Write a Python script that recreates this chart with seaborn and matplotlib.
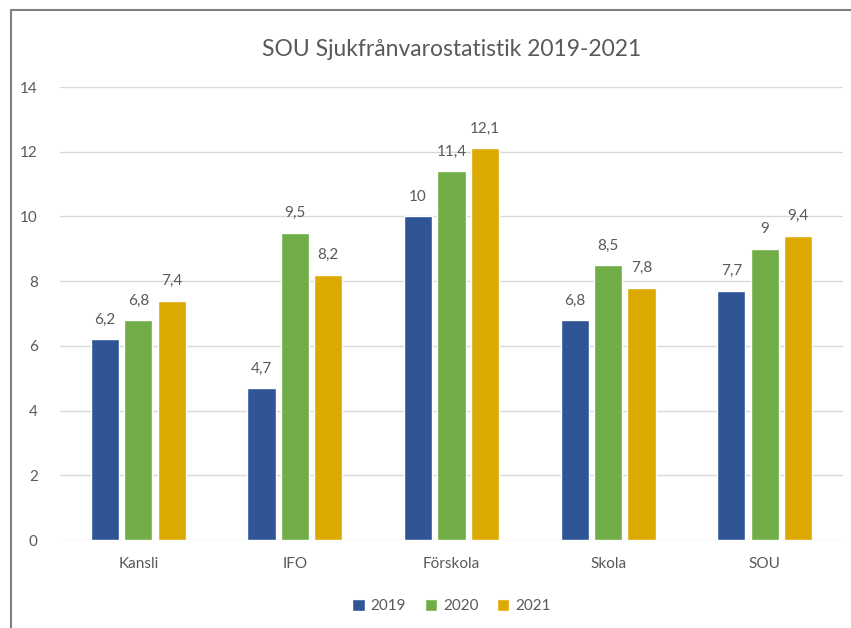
import pandas as pd
import matplotlib.pyplot as plt
import seaborn as sns
from matplotlib.lines import Line2D

categories = ['Kansli', 'IFO', 'Förskola', 'Skola', 'SOU']
years = ['2019', '2020', '2021']
values_2019 = [6.2, 4.7, 10, 6.8, 7.7]
values_2020 = [6.8, 9.5, 11.4, 8.5, 9]
values_2021 = [7.4, 8.2, 12.1, 7.8, 9.4]
colors = ['#2F5597', '#70AD47', '#DBA900']

df = pd.DataFrame({
    'enhet': categories * 3,
    'year': [y for y in years for _ in categories],
    'value': values_2019 + values_2020 + values_2021,
})

sns.set_style('white')
plt.rcParams['font.family'] = ['Lato', 'DejaVu Sans']
grey = '#595959'

fig = plt.figure(figsize=(8.51, 6.28), dpi=100)
ax = fig.add_axes([60 / 851, 1 - 540 / 628, 783 / 851, 453 / 628])

sns.barplot(data=df, x='enhet', y='value', hue='year', palette=colors,
            saturation=1, width=0.64, gap=0.16, ax=ax, legend=True)

for cont in ax.containers:
    labels = [('%g' % b.get_height()).replace('.', ',') for b in cont]
    ax.bar_label(cont, labels=labels, padding=9, fontsize=11, color=grey)

ax.set_ylim(0, 14)
ax.set_yticks(range(0, 15, 2))
ax.set_xlim(-0.5, 4.5)
ax.grid(axis='y', color='#D9D9D9', linewidth=1)
ax.set_axisbelow(True)
for s in ax.spines.values():
    s.set_visible(False)
ax.set_xlabel('')
ax.set_ylabel('')
ax.tick_params(axis='both', length=0, labelsize=11, colors=grey, pad=12)
ax.tick_params(axis='y', pad=16)

ax.set_title('SOU Sjukfrånvarostatistik 2019-2021', fontsize=16.5, color=grey, pad=22)

leg = ax.legend(loc='upper center', bbox_to_anchor=(0.5, -0.1), ncol=3,
                frameon=False, fontsize=11, handlelength=0.8, handleheight=0.8,
                columnspacing=1.2, handletextpad=0.4)
for t in leg.get_texts():
    t.set_color(grey)

fig.add_artist(Line2D([11 / 851, 11 / 851], [0, 1 - 10 / 628], color='#7F7F7F', lw=1.5))
fig.add_artist(Line2D([11 / 851, 1], [1 - 10 / 628, 1 - 10 / 628], color='#7F7F7F', lw=1.5))

fig.savefig('out.png', dpi=100)
